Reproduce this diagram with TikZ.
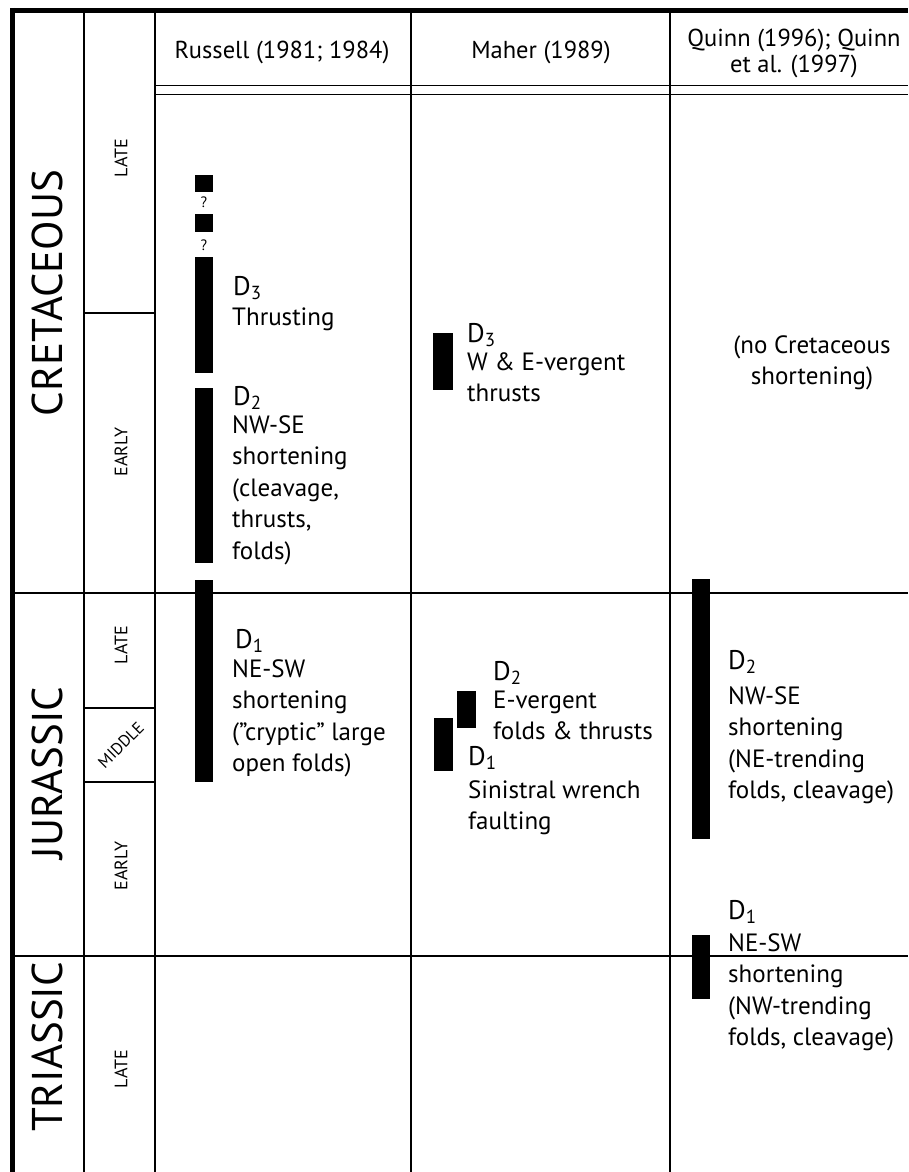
\documentclass[tikz,border=0pt]{standalone}
\usepackage{fontspec}
\setmainfont{PT Sans}

\tikzset{
  rule/.style={line width=2pt},
  frame/.style={line width=5pt},
  bar/.style={fill=black},
  period/.style={rotate=90,font=\fontsize{43}{43}\selectfont},
  stage/.style={rotate=90,font=\fontsize{18}{18}\selectfont},
  author/.style={font=\fontsize{24.5}{25}\selectfont,align=center},
  event/.style={anchor=base west,inner sep=0pt,font=\fontsize{27}{27}\selectfont},
  what/.style={anchor=base west,inner sep=0pt,align=left,font=\fontsize{25}{31.5}\selectfont}
}

\begin{document}
\begin{tikzpicture}[x=1pt,y=-1pt]
\useasboundingbox (0,0) rectangle (908,1172);

% frame and columns
\draw[frame] (12.5,8) -- (12.5,1172);
\draw[frame] (10,10.5) -- (908,10.5);
\draw[rule] (83.5,10) -- (83.5,1172);
\draw[rule] (154.5,10) -- (154.5,1172);
\draw[rule] (411,10) -- (411,1172);
\draw[rule] (669.5,10) -- (669.5,1172);
\draw[line width=1.5pt] (154.5,85.5) -- (908,85.5);
\draw[line width=1.5pt] (154.5,94.5) -- (908,94.5);

% periods and stages
\draw[rule] (12.5,593) -- (908,593);
\draw[rule] (12.5,956) -- (908,956);
\draw[rule] (83.5,313) -- (154.5,313);
\draw[rule] (83.5,708) -- (154.5,708);
\draw[rule] (83.5,782) -- (154.5,782);

\node[period] (cret) at (47,293) {CRETACEOUS};
\node[period] (jur) at (47,773) {JURASSIC};
\node[period] (tri) at (47,1047) {TRIASSIC};
\node[stage] (klate) at (121,158) {LATE};
\node[stage] (kearly) at (121,452) {EARLY};
\node[stage] (jlate) at (121,645) {LATE};
\node[rotate=45,inner sep=0pt,font=\fontsize{16.5}{16.5}\selectfont] (jmid) at (121,745) {MIDDLE};
\node[stage] (jearly) at (121,866) {EARLY};
\node[stage] (tlate) at (121,1069) {LATE};

% column heads (base = last line)
\node[author,anchor=base] (russell) at (282,59) {Russell (1981; 1984)};
\node[author,anchor=base] (maher) at (541,59) {Maher (1989)};
\node[author,anchor=base] (quinn) at (794,72) {Quinn (1996); Quinn\\et al. (1997)};

% bars
\fill[bar] (195,175) rectangle (213,192);
\fill[bar] (195,214) rectangle (213,232);
\fill[bar] (195,257) rectangle (213,373);
\fill[bar] (195,388) rectangle (213,563);
\fill[bar] (195,580) rectangle (213,782);
\fill[bar] (433,333) rectangle (453,390);
\fill[bar] (457,691) rectangle (476,728);
\fill[bar] (434,718) rectangle (453,771);
\fill[bar] (692,579) rectangle (710,839);
\fill[bar] (692,935) rectangle (710,999);

\node[font=\fontsize{15}{15}\selectfont] (ask1) at (204,202) {?};
\node[font=\fontsize{15}{15}\selectfont] (ask2) at (204,245) {?};

% Russell
\node[event] (r3) at (233,295) {D\textsubscript{3}};
\node[what] (r3t) at (232,325) {Thrusting};
\node[event] (r2) at (233,405) {D\textsubscript{2}};
\node[what] (r2t) at (232,559) {NW-SE\\shortening\\(cleavage,\\thrusts,\\folds)};
\node[event] (r1) at (235,648) {D\textsubscript{1}};
\node[what] (r1t) at (232,771.5) {NE-SW\\shortening\\(”cryptic” large\\open folds)};

% Maher
\node[event] (m3) at (467,342) {D\textsubscript{3}};
\node[what] (m3t) at (467,401.5) {W \& E-vergent\\thrusts};
\node[event] (m2) at (493,680) {D\textsubscript{2}};
\node[what] (m2t) at (493,739.5) {E-vergent\\folds \& thrusts};
\node[event] (m1) at (468,765) {D\textsubscript{1}};
\node[what] (m1t) at (468,829.5) {Sinistral wrench\\faulting};

% Quinn
\node[what,anchor=base,align=center] (qnone) at (812,384.5) {(no Cretaceous\\shortening)};
\node[event] (q2) at (728,669) {D\textsubscript{2}};
\node[what] (q2t) at (728,798.5) {NW-SE\\shortening\\(NE-trending\\folds, cleavage)};
\node[event] (q1) at (728,919) {D\textsubscript{1}};
\node[what] (q1t) at (728,1045.5) {NE-SW\\shortening\\(NW-trending\\folds, cleavage)};
\end{tikzpicture}
\end{document}
